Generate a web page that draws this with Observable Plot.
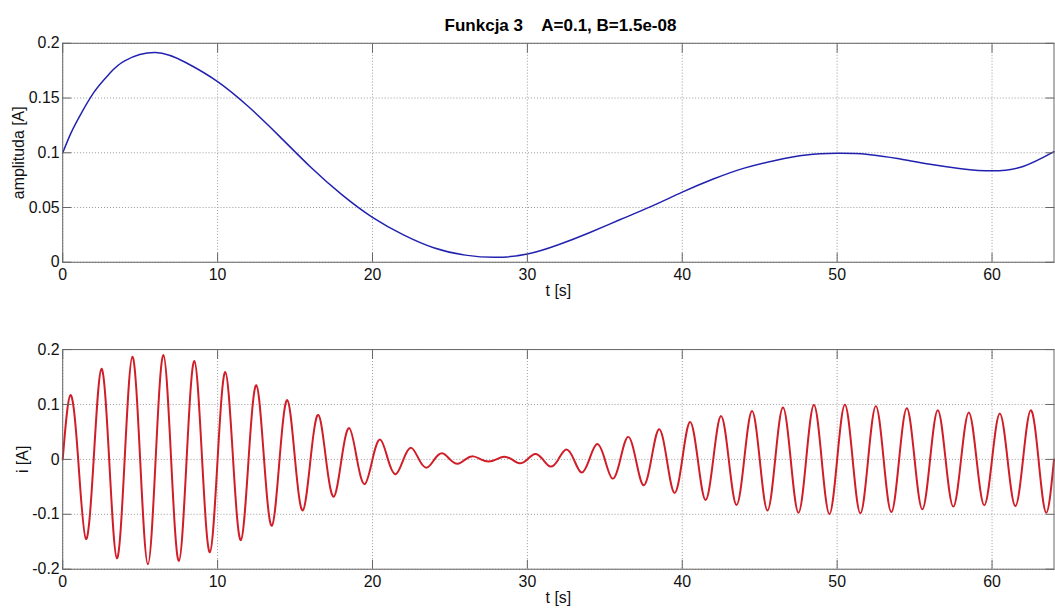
<!DOCTYPE html>
<html><head><meta charset="utf-8">
<script src="https://cdn.jsdelivr.net/npm/d3@7"></script>
<script src="https://cdn.jsdelivr.net/npm/@observablehq/plot@0.6"></script>
<style>
html,body{margin:0;padding:0;overflow:hidden;background:#fff;}
#wrap{position:relative;width:1055px;height:608px;overflow:hidden;background:#fff;}
#title{position:absolute;left:0;top:17px;width:1121px;text-align:center;font:bold 17px "Liberation Sans",Arial,sans-serif;line-height:1;white-space:pre;color:#000;}
#p1{position:absolute;left:0;top:0;}
#p2{position:absolute;left:0;top:300px;}
</style></head><body>
<div id="wrap"><div id="p1"></div><div id="p2"></div><div id="title"></div></div>
<script>
// ---- data ----
const titleText = "Funkcja 3    A=0.1, B=1.5e-08";
const xTicks = [0, 10, 20, 30, 40, 50, 60];
const ampTicks = [0, 0.05, 0.1, 0.15, 0.2];
const iTicks = [-0.2, -0.1, 0, 0.1, 0.2];

// envelope (top panel)
const ampT = [0,0.5,1,2,3,4,6,8,10,12,14,16,18,20,22,24,26,28,30,32,34,36,38,40,42,44,46,48,50,52,54,56,58,60,62,64];
const ampV = [0.100,0.117,0.131,0.155,0.172,0.184,0.1915,0.182,0.165,0.142,0.115,0.087,0.062,0.041,0.025,0.013,0.0065,0.0045,0.0075,0.016,0.027,0.039,0.051,0.064,0.076,0.086,0.093,0.098,0.0995,0.0985,0.0945,0.0895,0.0855,0.0835,0.0875,0.101];

// current i(t): zero crossings and successive peaks/troughs (bottom panel)
const iT = [0,0.5,1,1.5,2,2.5,3,3.5,4,4.5,5,5.5,6,6.5,7,7.5,8,8.5,9,9.5,10,10.5,11,11.5,12,12.5,13,13.5,14,14.5,15,15.5,16,16.5,17,17.5,18,18.5,19,19.5,20,20.5,21,21.5,22,22.5,23,23.5,24,24.5,25,25.5,26,26.5,27,27.5,28,28.5,29,29.5,30,30.5,31,31.5,32,32.5,33,33.5,34,34.5,35,35.5,36,36.5,37,37.5,38,38.5,39,39.5,40,40.5,41,41.5,42,42.5,43,43.5,44,44.5,45,45.5,46,46.5,47,47.5,48,48.5,49,49.5,50,50.5,51,51.5,52,52.5,53,53.5,54,54.5,55,55.5,56,56.5,57,57.5,58,58.5,59,59.5,60,60.5,61,61.5,62,62.5,63,63.5,64];
const iV = [0,0.117,0,-0.145,0,0.165,0,-0.180,0,0.187,0,-0.191,0,0.190,0,-0.185,0,0.179,0,-0.169,0,0.159,0,-0.147,0,0.135,0,-0.121,0,0.108,0,-0.093,0,0.081,0,-0.068,0,0.057,0,-0.045,0,0.036,0,-0.027,0,0.021,0,-0.015,0,0.011,0,-0.008,0,0.0055,0,-0.004,0,0.005,0,-0.007,0,0.010,0,-0.013,0,0.018,0,-0.024,0,0.028,0,-0.035,0,0.041,0,-0.047,0,0.055,0,-0.061,0,0.068,0,-0.074,0,0.079,0,-0.083,0,0.088,0,-0.093,0,0.0945,0,-0.097,0,0.099,0,-0.0994,0,0.0994,0,-0.098,0,0.097,0,-0.096,0,0.093,0,-0.091,0,0.0897,0,-0.086,0,0.0855,0,-0.0836,0,0.0836,0,-0.085,0,0.0897,0,-0.097,0];

const ampData = ampT.map((t, k) => ({t, v: ampV[k]}));
const iData = iT.map((t, k) => ({t, v: iV[k]}));

const fmt = d => String(d);
const blank = () => "";
const frameColor = "#666";
const gridStyle = {stroke: "#9a9a9a", strokeOpacity: 1, strokeWidth: 1, strokeDasharray: "1,2"};
const font = {fontFamily: "'Liberation Sans', Arial, sans-serif", fontSize: "16px", color: "#111", background: "transparent", overflow: "visible"};

function panel(yTicks, yDomain, yLabel, yLabelOffset, data, color, width, height, mt, mb) {
  return Plot.plot({
    width: 1060, height,
    marginLeft: 62.5, marginRight: 1.5, marginTop: mt, marginBottom: mb,
    style: font,
    x: {domain: [0, 64]},
    y: {domain: yDomain},
    marks: [
      Plot.gridX(xTicks, gridStyle),
      Plot.gridY(yTicks, gridStyle),
      Plot.line(data, {x: "t", y: "v", curve: "natural", stroke: color, strokeWidth: width}),
      Plot.frame({stroke: frameColor}),
      Plot.axisX(xTicks, {anchor: "bottom", tickSize: -9, tickPadding: 15, tickFormat: fmt, stroke: frameColor,
        label: "t [s]", labelAnchor: "center", labelOffset: 34, labelArrow: "none"}),
      Plot.axisX(xTicks, {anchor: "top", tickSize: -9, tickFormat: blank, stroke: frameColor, label: null}),
      Plot.axisY(yTicks, {anchor: "left", tickSize: -9, tickPadding: 12, tickFormat: fmt, stroke: frameColor,
        label: yLabel, labelAnchor: "center", labelOffset: yLabelOffset, labelArrow: "none"}),
      Plot.axisY(yTicks, {anchor: "right", tickSize: -9, tickFormat: blank, stroke: frameColor, label: null})
    ]
  });
}

document.getElementById("title").textContent = titleText;
document.getElementById("p1").append(panel(ampTicks, [0, 0.2], "amplituda [A]", 50, ampData, "#2121b0", 1.5, 300, 43, 37));
document.getElementById("p2").append(panel(iTicks, [-0.2, 0.2], "i [A]", 46, iData, "#d01e28", 2, 308, 49.3, 38));
</script>
</body></html>
